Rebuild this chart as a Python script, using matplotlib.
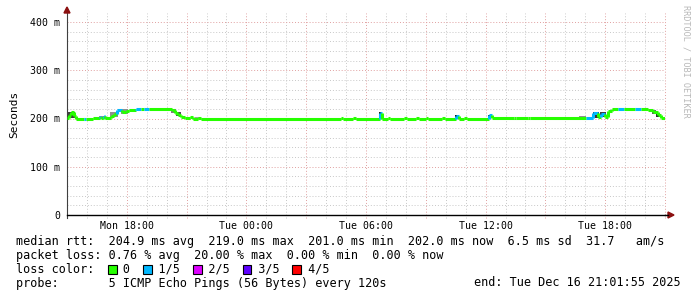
import matplotlib
matplotlib.use("Agg")
import matplotlib.pyplot as plt
from matplotlib.patches import Rectangle, Polygon

# ---------------- data (hours since Mon 00:00, median rtt in ms, lost pings of 5) ----------------
seg_start = [15.00, 15.10, 15.20, 15.35, 15.45, 15.85, 15.95, 16.30, 16.65, 16.72, 16.80, 16.85,
             16.92, 17.20, 17.35, 17.50, 17.75, 17.95, 18.10, 18.45, 18.70, 18.85, 19.10, 20.25,
             20.40, 20.55, 20.70, 20.90, 21.15, 21.30, 21.55, 21.70, 28.75, 28.85, 29.35, 29.50,
             30.70, 30.80, 31.10, 31.20, 31.90, 32.05, 32.50, 32.65, 33.00, 33.10, 33.80, 33.95,
             34.50, 34.65, 34.90, 35.05, 36.15, 36.30, 37.40, 37.50, 38.15, 38.25, 41.05, 41.40,
             41.65, 41.80, 42.00, 42.15, 42.35, 42.65, 42.95, 43.50, 43.80, 44.15, 44.40, 44.65,
             44.80]
seg_end = 45.0
median_ms = [201, 208, 213, 206, 200, 200, 200, 201, 203, 201, 202, 205,
             201, 206, 210, 217, 213, 216, 218, 219, 219, 219, 219, 217,
             212, 207, 203, 201, 203, 200, 202, 200, 202, 200, 202, 200,
             212, 200, 201, 200, 202, 200, 201, 200, 201, 200, 202, 200,
             206, 200, 202, 200, 207, 201, 202, 201, 202, 201, 201, 211,
             203, 210, 204, 215, 219, 219, 219, 219, 219, 217, 213, 207,
             201]
loss = [0, 0, 0, 0, 0, 1, 0, 0, 1, 0, 0, 1,
        0, 0, 0, 1, 0, 0, 0, 1, 0, 1, 0, 0,
        0, 0, 0, 0, 0, 0, 0, 0, 0, 0, 0, 0,
        1, 0, 0, 0, 0, 0, 0, 0, 0, 0, 0, 0,
        1, 0, 0, 0, 1, 0, 0, 0, 0, 0, 1, 1,
        0, 1, 0, 0, 0, 1, 0, 1, 0, 0, 0, 0,
        0]

# smoke (spread of the individual pings)
smoke_t0 = [15.05, 16.60, 17.15, 17.70, 20.20, 20.45, 21.40, 30.65, 34.45, 36.10, 40.30, 40.70, 41.40, 41.75, 44.35, 44.55]
smoke_t1 = [15.40, 16.95, 17.55, 18.05, 20.45, 20.70, 21.60, 30.75, 34.60, 36.25, 40.70, 41.05, 41.70, 42.05, 44.55, 44.75]
smoke_lo = [201, 200, 204, 210, 212, 205, 200, 200, 200, 200, 200, 200, 202, 203, 210, 204]
smoke_hi = [214, 206, 213, 219, 219, 213, 203, 213, 208, 208, 204, 205, 214, 213, 217, 212]
smoke_col = ["#404040", "#909090", "#909090", "#909090", "#808080", "#505050", "#a0a0a0", "#202020",
             "#202020", "#202020", "#a0a0a0", "#909090", "#303030", "#404040", "#606060", "#303030"]

xtick_pos = [18, 24, 30, 36, 42]
xtick_labels = ["Mon 18:00", "Tue 00:00", "Tue 06:00", "Tue 12:00", "Tue 18:00"]
ytick_vals = [0.0, 0.1, 0.2, 0.3, 0.4]
ytick_labels = ["0", "100 m", "200 m", "300 m", "400 m"]

loss_colors = ["#26ff00", "#00b8ff", "#dd00ff", "#5e00ff", "#ff0000"]
loss_names = ["0", "1/5", "2/5", "3/5", "4/5"]

legend_lines = [
    "median rtt:  204.9 ms avg  219.0 ms max  201.0 ms min  202.0 ms now  6.5 ms sd  31.7   am/s",
    "packet loss: 0.76 % avg  20.00 % max  0.00 % min  0.00 % now",
    "loss color:    0    1/5    2/5    3/5    4/5",
    "probe:       5 ICMP Echo Pings (56 Bytes) every 120s",
]
end_text = "end: Tue Dec 16 21:01:55 2025"

# ---------------- figure ----------------
W, H = 697, 297
MONO = "DejaVu Sans Mono"
fig = plt.figure(figsize=(W / 100, H / 100), dpi=100)
fig.patch.set_facecolor("white")

X0, X1, YB, YT = 67, 665, 215, 13
ax = fig.add_axes([X0 / W, 1 - YB / H, (X1 - X0) / W, (YB - YT) / H])
ax.set_xlim(15, 45)
YMAX = 0.4 * (YB - YT) / (215 - 22)
ax.set_ylim(0, YMAX)
ax.set_facecolor("white")

per_px = YMAX / (YB - YT)

# grid
for h in range(16, 46):
    major = (h % 3 == 0)
    ax.plot([h, h], [-3 * per_px, YMAX], color="#e0a0a0" if major else "#c8c8c8",
            lw=0.7, ls=(0, (1, 2)), clip_on=False, zorder=1)
for i in range(1, 21):
    v = i * 0.02
    if v > YMAX:
        break
    major = (i % 5 == 0)
    ax.plot([15, 45], [v, v], color="#e0a0a0" if major else "#c8c8c8",
            lw=0.7, ls=(0, (1, 2)), zorder=1)

# smoke
for t0, t1, lo, hi, c in zip(smoke_t0, smoke_t1, smoke_lo, smoke_hi, smoke_col):
    ax.fill_between([t0, t1], [lo / 1000] * 2, [hi / 1000] * 2, color=c, lw=0, zorder=2)

# median line coloured by loss
ends = seg_start[1:] + [seg_end]
for i, (t0, t1, v, l) in enumerate(zip(seg_start, ends, median_ms, loss)):
    c = loss_colors[l]
    ax.plot([t0, t1], [v / 1000, v / 1000], color=c, lw=2.2, solid_capstyle="butt", zorder=3)
    if i > 0:
        ax.plot([t0, t0], [median_ms[i - 1] / 1000, v / 1000], color=c, lw=2.2,
                solid_capstyle="butt", zorder=3)

# axes styling
for s in ["top", "right"]:
    ax.spines[s].set_visible(False)
ax.spines["left"].set_color("#404040")
ax.spines["bottom"].set_color("#000000")
ax.spines["left"].set_linewidth(0.8)
ax.spines["bottom"].set_linewidth(1.0)
ax.spines["left"].set_bounds(-3 * per_px, YMAX)
ax.set_xticks(xtick_pos)
ax.set_xticklabels(xtick_labels, fontfamily=MONO, fontsize=7.1)
ax.set_yticks(ytick_vals)
ax.set_yticklabels(ytick_labels, fontfamily=MONO, fontsize=7.1)
ax.tick_params(axis="x", length=0, pad=4.5)
ax.tick_params(axis="y", length=0, pad=5)
ax.set_ylabel("Seconds", fontfamily=MONO, fontsize=8, labelpad=8)

# arrows
arrow_c = "#8b1010"
fig.patches.append(Polygon([[(X0 - 3) / W, 1 - 13 / H], [(X0 + 3) / W, 1 - 13 / H], [X0 / W, 1 - 7 / H]],
                           closed=True, color=arrow_c, transform=fig.transFigure))
fig.patches.append(Polygon([[668 / W, 1 - 212 / H], [668 / W, 1 - 218 / H], [674 / W, 1 - 215 / H]],
                           closed=True, color=arrow_c, transform=fig.transFigure))
fig.lines.append(plt.Line2D([X1 / W, 668 / W], [1 - YB / H, 1 - YB / H], color="black", lw=1.0,
                            transform=fig.transFigure))

# watermark
fig.text(686 / W, 1 - 5 / H, "RRDTOOL / TOBI OETIKER", rotation=-90, fontfamily=MONO,
         fontsize=6.1, color="#b8b8b8", ha="center", va="top")

# legend text
LX = 16
CH = 7.08
line_y = [241, 255, 269, 283]
for txt, y in zip(legend_lines, line_y):
    fig.text(LX / W, 1 - y / H, txt, fontfamily=MONO, fontsize=8.45, color="black",
             ha="left", va="center")
fig.text(681 / W, 1 - line_y[3] / H, end_text, fontfamily=MONO, fontsize=8.45, color="black",
         ha="right", va="center")
sq_idx = [13, 18, 25, 32, 39]
for idx, c in zip(sq_idx, loss_colors):
    x = LX + idx * CH
    fig.patches.append(Rectangle((x / W, 1 - (line_y[2] + 4.5) / H), 8.5 / W, 9 / H,
                                 facecolor=c, edgecolor="black", lw=0.8, transform=fig.transFigure))

fig.savefig("out.png", dpi=100)
